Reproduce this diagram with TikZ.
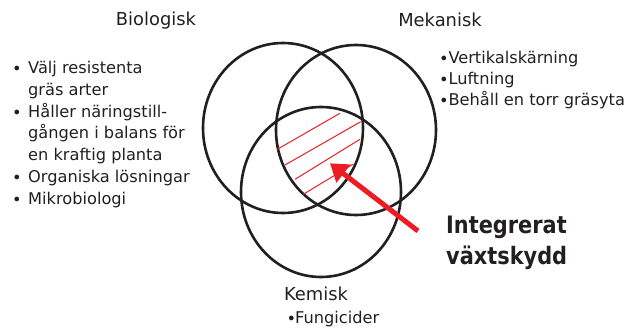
\documentclass[tikz,border=0pt]{standalone}
\usepackage{fontspec}
\setmainfont{DejaVu Sans}
\newfontfamily\bigfont{DejaVu Sans}[FakeStretch=0.87]
\usetikzlibrary{arrows.meta}
\definecolor{ink}{HTML}{231F20}
\definecolor{vred}{HTML}{ED1C24}
\newcommand{\bul}[1]{\makebox[#1][l]{\raisebox{-1pt}{•}}}
\begin{document}
\begin{tikzpicture}[x=1pt,y=-1pt,
  ring/.style={draw=ink,line width=2.6pt},
  hatch/.style={draw=vred,line width=1pt},
  head/.style={font=\fontsize{17.9}{20}\selectfont,text=ink,inner sep=0pt},
  list/.style={font=\fontsize{16.2}{21.8}\selectfont,text=ink,inner sep=0pt,align=left},
  big/.style={font=\bigfont\bfseries\fontsize{24}{32}\selectfont,text=ink,inner sep=0pt,align=left}]
\useasboundingbox (0,0) rectangle (633,329);
% circles
\draw[ring] (283,128) ellipse [x radius=80pt, y radius=85pt];
\draw[ring] (356,130) ellipse [x radius=80pt, y radius=85pt];
\draw[ring] (321,192) ellipse [x radius=80pt, y radius=85pt];
% hatch
\coordinate (h1a) at (277.3,149.3); \coordinate (h1b) at (340,113.3);
\coordinate (h2a) at (285,165);     \coordinate (h2b) at (360.7,121.7);
\coordinate (h3a) at (295,179.3);   \coordinate (h3b) at (360,139.3);
\coordinate (h4a) at (303.3,194.3); \coordinate (h4b) at (353.3,164);
\draw[hatch] (h1a) -- (h1b);
\draw[hatch] (h2a) -- (h2b);
\draw[hatch] (h3a) -- (h3b);
\draw[hatch] (h4a) -- (h4b);
% arrow
\coordinate (tail) at (418,231);
\coordinate (tip) at (330,163.3);
\draw[vred,line width=5pt,-{Triangle[length=17pt,width=22pt]}] (tail) -- (tip);
% headings
\node[head,anchor=base] (bio) at (156,26) {Biologisk};
\node[head,anchor=base] (mek) at (440,27) {Mekanisk};
\node[head,anchor=base] (kem) at (316,300) {Kemisk};
% lists (base anchor = baseline of last line)
\node[list,anchor=base west] (biol) at (12,204.3) {\bul{16pt}Välj resistenta\\
\hspace{16pt}gräs arter\\
\bul{16pt}Håller näringstill-\\
\hspace{16pt}gången i balans för\\
\hspace{16pt}en kraftig planta\\
\bul{16pt}Organiska lösningar\\
\bul{16pt}Mikrobiologi};
\node[list,anchor=base west,font=\fontsize{16.2}{21.3}\selectfont] (mekl) at (439,106) {\bul{9.3pt}Vertikalskärning\\
\bul{9.3pt}Luftning\\
\bul{9.3pt}Behåll en torr gräsyta};
\node[list,anchor=base west] (keml) at (286.5,323.3) {\bul{8.5pt}Fungicider};
\node[big,anchor=base west] (ipm) at (446,265) {Integrerat\\växtskydd};
\end{tikzpicture}
\end{document}
